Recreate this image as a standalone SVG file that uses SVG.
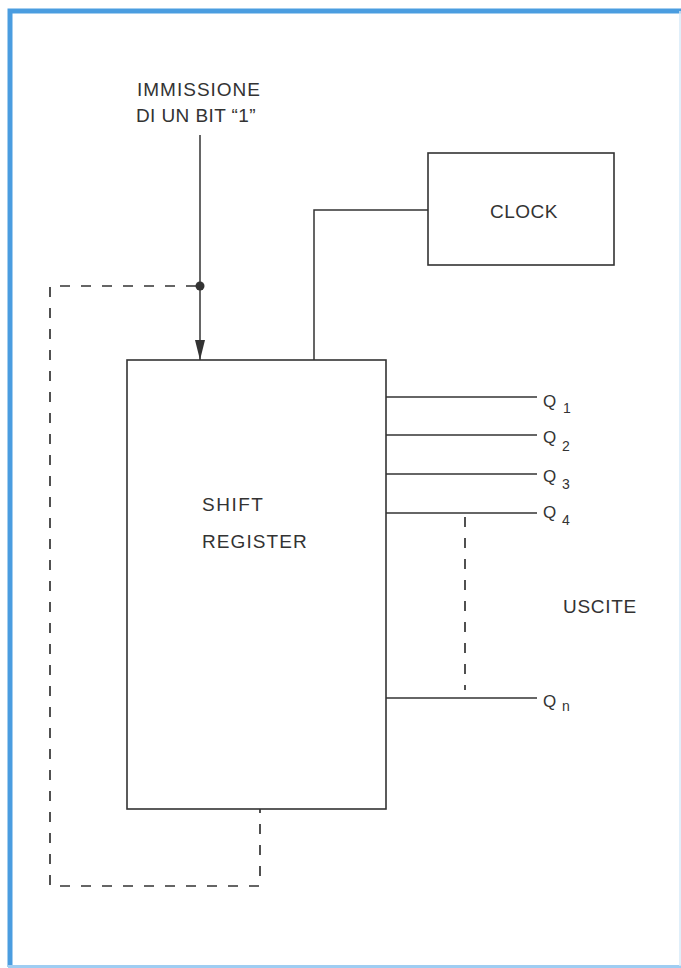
<svg xmlns="http://www.w3.org/2000/svg" width="681" height="968" viewBox="0 0 681 968">
<defs>
<style>
.ln{stroke:#333333;stroke-width:1.5;fill:none}
.box{stroke:#333333;stroke-width:1.6;fill:none}
.dash{stroke:#333333;stroke-width:1.7;fill:none;stroke-dasharray:10,11}
.t{font-family:"Liberation Sans",Arial,sans-serif;font-size:19px;fill:#333333}
.q{font-family:"Liberation Sans",Arial,sans-serif;font-size:17px;fill:#333333}
.s{font-family:"Liberation Sans",Arial,sans-serif;font-size:14px;fill:#333333}
</style>
<marker id="arr" viewBox="0 0 20 10" refX="20" refY="5" markerWidth="20" markerHeight="10" markerUnits="userSpaceOnUse" orient="auto">
<path d="M0,0 L20,5 L0,10 Z" fill="#333333"/>
</marker>
</defs>
<rect x="0" y="0" width="681" height="968" fill="#ffffff"/>
<path d="M10,967 L10,11 L681,11" fill="none" stroke="#4a9de0" stroke-width="5"/>
<line x1="8" y1="966.5" x2="681" y2="966.5" stroke="#9fcdf2" stroke-width="3"/>
<line x1="680" y1="11" x2="680" y2="966" stroke="#d6eaf8" stroke-width="1.5"/>

<g id="input">
<text class="t" x="137" y="96" letter-spacing="1">IMMISSIONE</text>
<text class="t" x="136" y="122" letter-spacing="0.4">DI UN BIT “1”</text>
</g>

<g id="clock">
<rect class="box" x="428" y="153" width="186" height="112"/>
<text class="t" x="490" y="218" font-size="20" letter-spacing="0.5">CLOCK</text>
</g>

<g id="shift-register">
<rect class="box" x="127" y="360" width="259" height="449"/>
<text class="t" x="202" y="511" letter-spacing="1.5">SHIFT</text>
<text class="t" x="202" y="548" letter-spacing="1.1">REGISTER</text>
</g>

<g id="outputs">
<text class="q" x="543" y="407">Q</text><text class="s" x="563" y="413">1</text>
<text class="q" x="543" y="443">Q</text><text class="s" x="562" y="451">2</text>
<text class="q" x="543" y="482">Q</text><text class="s" x="562" y="489">3</text>
<text class="q" x="543" y="518">Q</text><text class="s" x="562" y="525">4</text>
<text class="q" x="543" y="707">Q</text><text class="s" x="562" y="711">n</text>
<text class="t" x="563" y="613" font-size="20" letter-spacing="0.7">USCITE</text>
</g>

<g id="connectors">
<line class="ln" x1="200" y1="135" x2="200" y2="360" marker-end="url(#arr)"/>
<circle cx="200" cy="286" r="4.5" fill="#333333"/>
<path class="ln" d="M314,360 L314,210 L428,210"/>
<path class="dash" d="M196,286 L50,286 L50,886 L260,886 L260,809"/>
<line class="ln" x1="386" y1="397" x2="537" y2="397"/>
<line class="ln" x1="386" y1="435" x2="537" y2="435"/>
<line class="ln" x1="386" y1="474" x2="537" y2="474"/>
<line class="ln" x1="386" y1="513" x2="537" y2="513"/>
<line class="ln" x1="386" y1="698" x2="537" y2="698"/>
<line class="dash" x1="465" y1="517" x2="465" y2="690" stroke-dasharray="11,9"/>
</g>
</svg>
